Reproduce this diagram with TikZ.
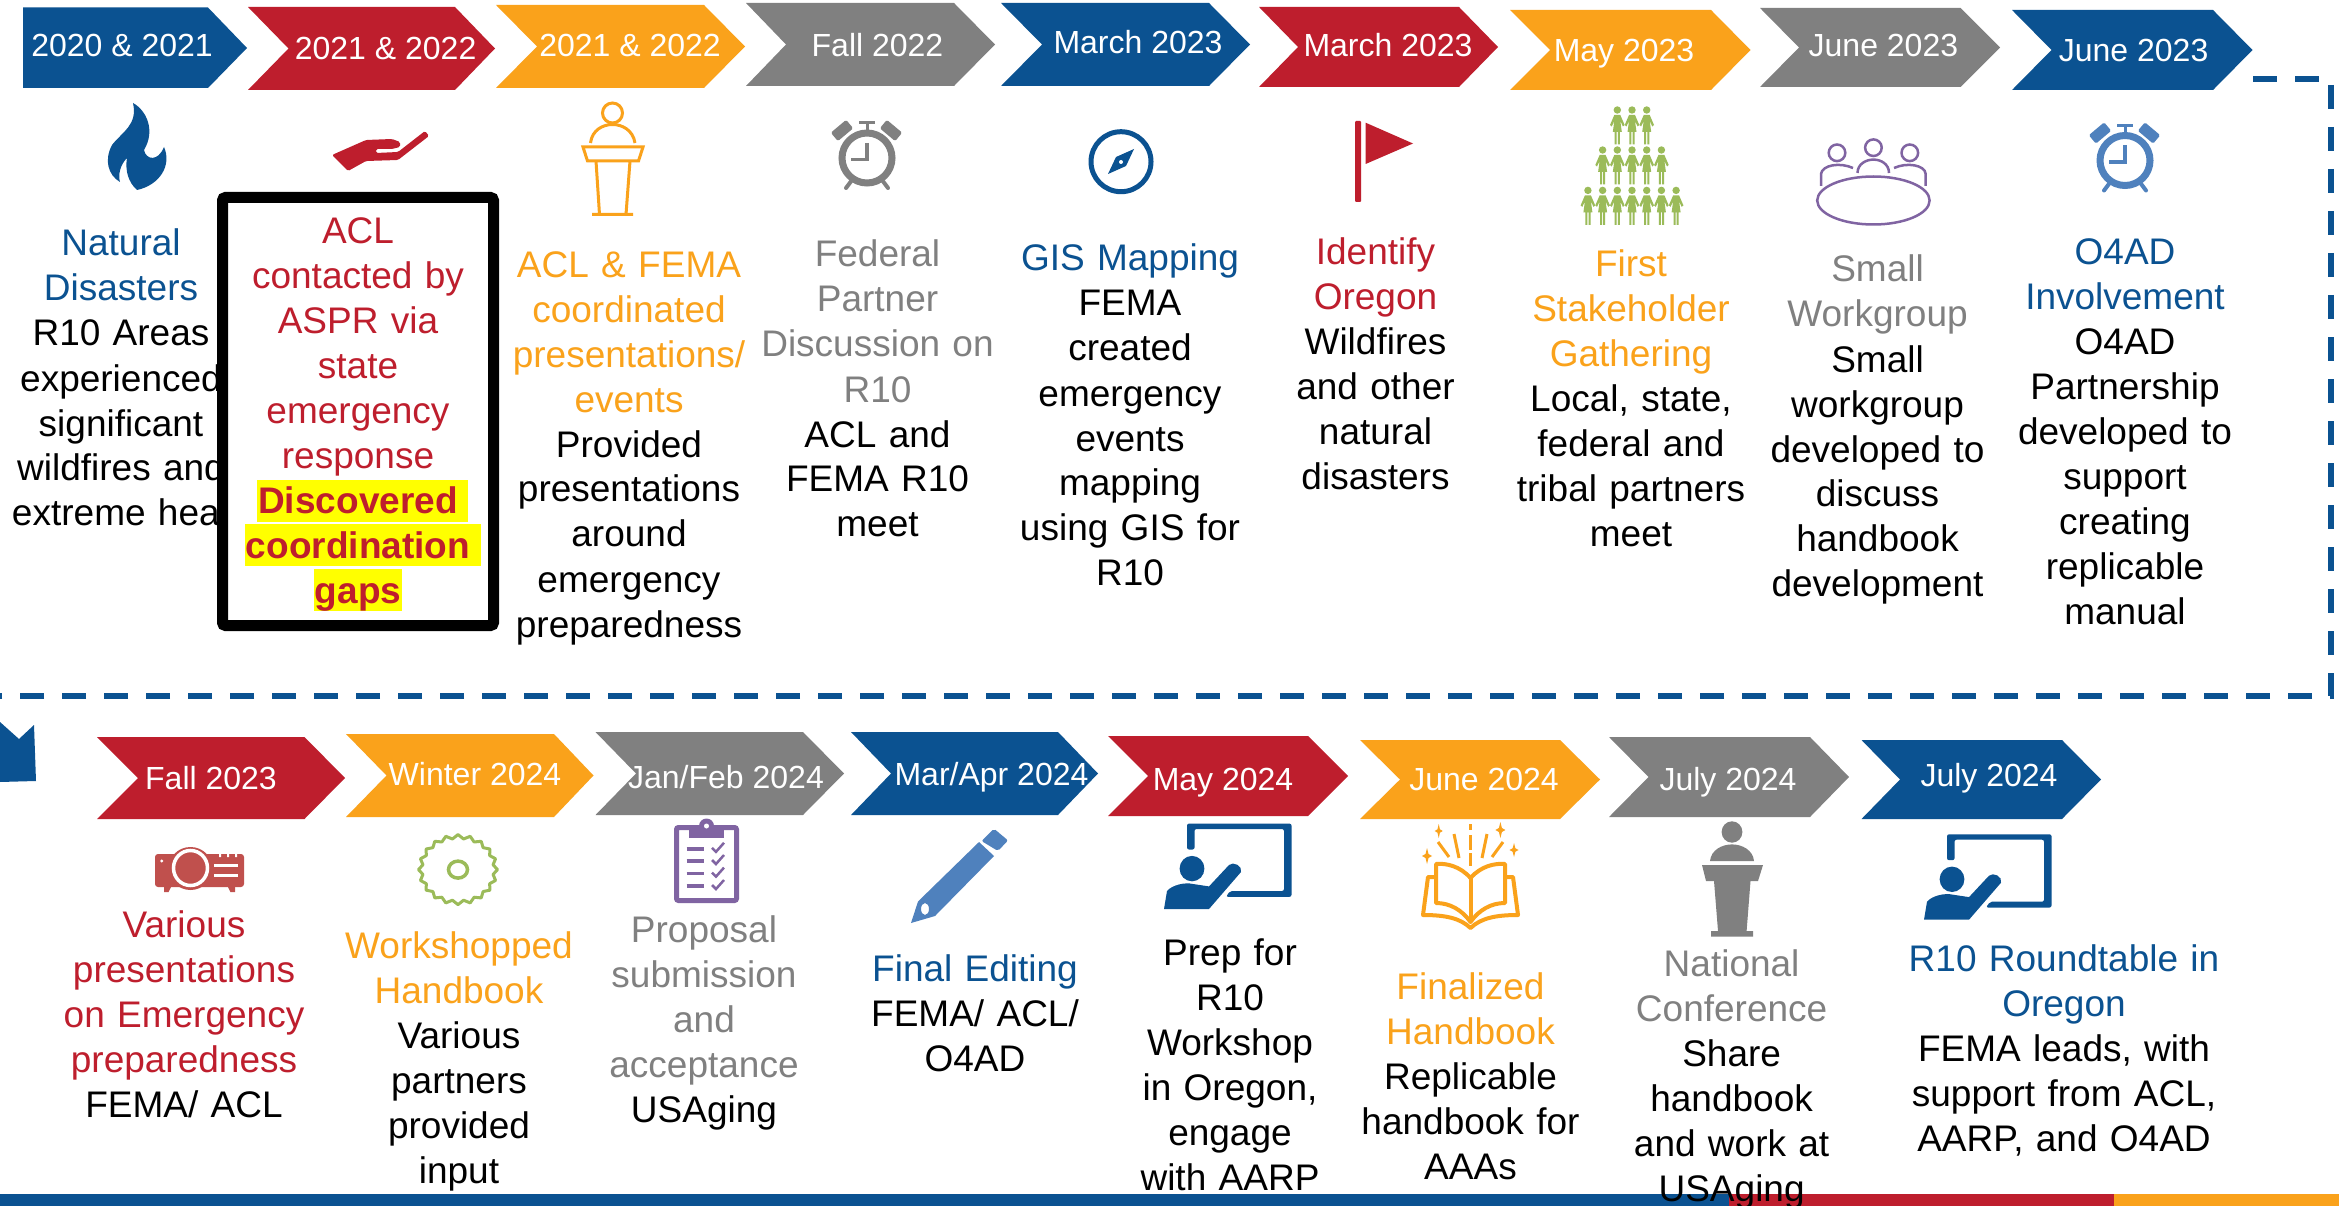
\documentclass[tikz,border=0pt]{standalone}
\usepackage{fontspec}
\setmainfont{Liberation Sans}
\definecolor{cblue}{HTML}{0B5291}
\definecolor{cred}{HTML}{BE1E2D}
\definecolor{corange}{HTML}{FAA21B}
\definecolor{cgray}{HTML}{808080}
\definecolor{clight}{HTML}{4F81BD}
\definecolor{cgreen}{HTML}{9BBB59}
\definecolor{cpurple}{HTML}{8064A2}
\definecolor{cproj}{HTML}{C0504D}
\definecolor{chigh}{HTML}{FFFF00}
\newcommand{\stt}{\rule[-12pt]{0pt}{45pt}}
\tikzset{
  txt/.style={anchor=north,yshift=33pt,inner sep=0pt,outer sep=0pt,text width=270pt,align=center,font=\fontsize{37}{45}\selectfont},
  lab/.style={anchor=base,inner sep=0pt,text=white,font=\fontsize{32}{38}\selectfont},
  flow/.style={draw=cblue,line width=5.5pt,dash pattern=on 24pt off 18pt}
}
% x-left, notch, shoulder, right, top, bottom, colour
\newcommand{\chev}[7]{\fill[#7] (#1,#5) -- (#3,#5) -- (#4,{(#5+#6)/2}) -- (#3,#6) -- (#1,#6) -- (#2,{(#5+#6)/2}) -- cycle;}
\newcommand{\clockicon}[3]{\begin{scope}[shift={(#1,#2)},#3]
  \draw[line width=7pt] (0,0) circle (25);
  \draw[line width=3.5pt] (0,-15) -- (0,1.5) -- (-16,1.5);
  \fill[rotate around={40:(-25,-27.5)},rounded corners=1.5pt] (-35,-33) rectangle (-15,-22);
  \fill[rotate around={-40:(24,-27.5)},rounded corners=1.5pt] (14,-33) rectangle (34,-22);
  \draw[line width=3pt] (0,-35) -- (0,-27) (-8,-35) -- (8,-35);
  \draw[line width=4pt,line cap=round] (-15,22) -- (-21,30) (15,22) -- (21,30);
\end{scope}}
\newcommand{\person}[2]{\begin{scope}[shift={(#1,#2)}]
  \fill (0,0) circle (3.7);
  \fill (-3,5) -- (3,5) -- (7.3,15) -- (5.6,16.5) -- (3,11) -- (4.5,22) -- (2.6,22) -- (2.6,34.5) -- (0.6,34.5) -- (0.6,22) -- (-0.6,22) -- (-0.6,34.5) -- (-2.6,34.5) -- (-2.6,22) -- (-4.5,22) -- (-3,11) -- (-5.6,16.5) -- (-7.3,15) -- cycle;
\end{scope}}
\newcommand{\teacher}[2]{\begin{scope}[shift={(#1,#2)},cblue]
  \fill[rounded corners=2pt] (1187,849.5) -- (1187,823.6) -- (1291.5,823.6) -- (1291.5,896.8) -- (1226,896.8) -- (1230,891) -- (1284,891) -- (1284,829) -- (1194.5,829) -- (1194.5,849.5) -- cycle;
  \fill (1192,868.6) ellipse (12.4 and 12.7);
  \fill (1164,909) -- (1167,891) .. controls (1172,885) and (1185,882) .. (1193,884) -- (1209,886.4) -- (1229,865) .. controls (1233,861) and (1243,866) .. (1241,872) -- (1209,909) -- cycle;
\end{scope}}
\newcommand{\sparkle}[4]{\fill[corange] (#1,#2-#4) -- (#1+#3*0.3,#2-#4*0.25) -- (#1+#3,#2) -- (#1+#3*0.3,#2+#4*0.25) -- (#1,#2+#4) -- (#1-#3*0.3,#2+#4*0.25) -- (#1-#3,#2) -- (#1-#3*0.3,#2-#4*0.25) -- cycle;}
\begin{document}
\begin{tikzpicture}[x=1pt,y=-1pt]
\useasboundingbox (0,0) rectangle (2339,1206);
\fill[white] (0,0) rectangle (2339,1206);
% bottom bar
\fill[cblue] (0,1194) rectangle (1729,1206);
\fill[cred] (1729,1194) rectangle (2114,1206);
\fill[corange] (2114,1194) rectangle (2339,1206);
% row 1 chevrons
\fill[cblue] (23,7.5) -- (208,7.5) -- (247,48) -- (208,88) -- (23,88) -- cycle;
\chev{248}{288.5}{455}{495}{7}{90}{cred}
\chev{496}{537}{704}{745}{5}{88}{corange}
\chev{746}{786}{954}{995}{3}{86}{cgray}
\chev{1001}{1042}{1209}{1250}{3}{86}{cblue}
\chev{1259}{1298}{1459}{1498}{7}{87}{cred}
\chev{1510}{1550}{1711}{1750.5}{10}{90}{corange}
\chev{1760}{1799}{1960.5}{2000}{8}{87}{cgray}
\chev{2012}{2051.5}{2213}{2252.5}{10}{90}{cblue}
\node[lab] (l1) at (122,57) {2020 \& 2021};
\node[lab] (l2) at (385.6,60) {2021 \& 2022};
\node[lab] (l3) at (630,56.4) {2021 \& 2022};
\node[lab] (l4) at (877.5,57) {Fall 2022};
\node[lab] (l5) at (1138,54) {March 2023};
\node[lab] (l6) at (1388,57) {March 2023};
\node[lab] (l7) at (1624,62) {May 2023};
\node[lab] (l8) at (1883.4,57) {June 2023};
\node[lab] (l9) at (2133.6,61.5) {June 2023};
% row 2 chevrons
\chev{97}{138}{304.5}{345}{737}{819}{cred}
\chev{346}{386.5}{554}{593.5}{734}{817}{corange}
\chev{595.5}{636}{803}{844}{732}{815}{cgray}
\chev{851}{891}{1058}{1098}{732}{815}{cblue}
\chev{1108}{1148}{1308}{1348}{736}{816}{cred}
\chev{1360}{1400}{1560}{1600}{740}{819}{corange}
\chev{1609}{1648.5}{1810}{1849}{737}{817}{cgray}
\chev{1861.5}{1900}{2062}{2101}{740}{819}{cblue}
\node[lab] (m1) at (211,789) {Fall 2023};
\node[lab] (m2) at (475,785.7) {Winter 2024};
\node[lab] (m3) at (726,788) {Jan/Feb 2024};
\node[lab] (m4) at (991.5,785.7) {Mar/Apr 2024};
\node[lab] (m5) at (1223,790.7) {May 2024};
\node[lab] (m6) at (1484,790.7) {June 2024};
\node[lab] (m7) at (1728,790) {July 2024};
\node[lab] (m8) at (1989,786.4) {July 2024};
% flow connector
\coordinate (fa) at (2253,79);
\coordinate (fb) at (2331,79);
\coordinate (fc) at (2331,696);
\coordinate (fd) at (0,696);
\draw[flow] (fa) -- (fb) -- (fc) -- (fd);
\fill[cblue] (0,722) -- (19,739) -- (34,725) -- (36,781) -- (0,782) -- cycle;
% column 1
\node[txt] (t1) at (121,256) {\stt\color{cblue}Natural\\Disasters\\\color{black}R10 Areas\\experienced\\significant\\wildfires and\\extreme heat};
% column 2: framed
\draw[black,fill=white,line width=11pt,rounded corners=3pt] (222.5,197.5) rectangle (493.5,625.5);
\fill[chigh] (257,480) rectangle (468,521.6);
\fill[chigh] (245,524) rectangle (481,566);
\fill[chigh] (314,569) rectangle (401.5,611);
\node[txt] (t2) at (358,243.4) {\stt\color{cred}ACL\\contacted by\\ASPR via\\state\\emergency\\response\\\bfseries Discovered\\coordination\\gaps};
\node[txt] (t3) at (629,277) {\stt\color{corange}ACL \& FEMA\\coordinated\\presentations/\\events\\\color{black}Provided\\presentations\\around\\emergency\\preparedness};
\node[txt] (t4) at (877.5,267) {\stt\color{cgray}Federal\\Partner\\Discussion on\\R10\\\color{black}ACL and\\FEMA R10\\meet};
\node[txt] (t5) at (1130,271) {\stt\color{cblue}GIS Mapping\\\color{black}FEMA\\created\\emergency\\events\\mapping\\using GIS for\\R10};
\node[txt] (t6) at (1375.5,265) {\stt\color{cred}Identify\\Oregon\\\color{black}Wildfires\\and other\\natural\\disasters};
\node[txt] (t7) at (1631,276.6) {\stt\color{corange}First\\Stakeholder\\Gathering\\\color{black}Local, state,\\federal and\\tribal partners\\meet};
\node[txt] (t8) at (1877.5,282) {\stt\color{cgray}Small\\Workgroup\\\color{black}Small\\workgroup\\developed to\\discuss\\handbook\\development};
\node[txt] (t9) at (2125,265) {\stt\color{cblue}O4AD\\Involvement\\\color{black}O4AD\\Partnership\\developed to\\support\\creating\\replicable\\manual};
% row 2 texts
\node[txt] (u1) at (184,937) {\stt\color{cred}Various\\presentations\\on Emergency\\preparedness\\\color{black}FEMA/ ACL};
\node[txt] (u2) at (459,958) {\stt\color{corange}Workshopped\\Handbook\\\color{black}Various\\partners\\provided\\input};
\node[txt] (u3) at (704,942) {\stt\color{cgray}Proposal\\submission\\and\\acceptance\\\color{black}USAging};
\node[txt] (u4) at (975,981) {\stt\color{cblue}Final Editing\\\color{black}FEMA/ ACL/\\O4AD};
\node[txt] (u5) at (1230,965) {\stt Prep for\\R10\\Workshop\\in Oregon,\\engage\\with AARP};
\node[txt] (u6) at (1470.5,999) {\stt\color{corange}Finalized\\Handbook\\\color{black}Replicable\\handbook for\\AAAs};
\node[txt] (u7) at (1731.6,976) {\stt\color{cgray}National\\Conference\\\color{black}Share\\handbook\\and work at\\USAging};
\node[txt,text width=360pt] (u8) at (2064,971) {\stt\color{cblue}R10 Roundtable in\\Oregon\\\color{black}FEMA leads, with\\support from ACL,\\AARP, and O4AD};
% flame
\fill[cblue] (133,103) .. controls (146,110) and (156,130) .. (144,150) .. controls (146,160) and (158,162) .. (164,147) .. controls (172,165) and (160,185) .. (137,190) .. controls (128,182) and (125,170) .. (127,158) .. controls (120,165) and (118,175) .. (120,182) .. controls (108,175) and (104,160) .. (112,145) .. controls (122,132) and (138,125) .. (133,103) -- cycle;
% hand
\fill[cred,rounded corners=1.5pt] (332,155) -- (366,140) -- (392,139) -- (400,142) -- (400,147) -- (392,149) -- (376,149) -- (376,153) -- (398,152) -- (425,131) -- (429,136) -- (398,160) -- (366,161) -- (348,171) -- cycle;
% orange podium
\begin{scope}[corange,line width=3pt]
\draw (612.5,113) circle (10);
\draw (590.5,143) .. controls (592,130) and (603,124.5) .. (612.5,124.5) .. controls (622,124.5) and (633,130) .. (635,143);
\draw (583,147) -- (643,147) -- (638.5,161) -- (587.5,161) -- cycle;
\draw (596,161) -- (599.5,214.5) (630,161) -- (626,214.5) (592,214.5) -- (633,214.5);
\end{scope}
% clocks
\clockicon{867}{158}{cgray}
\clockicon{2125}{160.5}{clight}
% compass
\draw[cblue,line width=5pt] (1121,161.7) circle (30);
\fill[cblue] (1134,149) -- (1126,166) -- (1108,174) -- (1116,157) -- cycle;
\fill[white] (1121,162) circle (2);
% flag
\fill[cred,rounded corners=1pt] (1355,121) rectangle (1361,202);
\fill[cred] (1365.6,122.7) -- (1413,143.5) -- (1365.6,164) -- cycle;
% people pyramid
\begin{scope}[cgreen]
\foreach \i in {-1,0,1}{\person{1632+14.7*\i}{110}}
\foreach \i in {-2,...,2}{\person{1632+14.7*\i}{150}}
\foreach \i in {-3,...,3}{\person{1632+14.7*\i}{190.4}}
\end{scope}
% small workgroup
\begin{scope}[cpurple,line width=2.5pt]
\draw (1873.4,200.5) ellipse (56.2 and 24);
\draw (1837,152.8) circle (8.3) (1873.4,147.7) circle (8.3) (1909.8,152.8) circle (8.3);
\draw (1821,186) -- (1821,174) .. controls (1822,165) and (1840,162) .. (1853,168);
\draw (1857.5,173) .. controls (1857.5,164) and (1866,159.6) .. (1873.4,159.6) .. controls (1881,159.6) and (1889,164) .. (1889,173);
\draw (1894,168) .. controls (1907,162) and (1925,165) .. (1925.7,174) -- (1925.7,186);
\end{scope}
% projector
\fill[cproj,rounded corners=3pt] (155,854) rectangle (244,887);
\fill[cproj] (190.5,868.5) ellipse (22 and 21.5);
\draw[white,line width=3.5pt] (190.5,868) ellipse (17 and 17.5);
\draw[white,line width=3pt] (214,865.6) -- (238,865.6) (214,875) -- (238,875);
\fill[white] (161.7,861) circle (1.6);
\fill[white] (219,854) rectangle (221,857) (227,854) rectangle (229,857) (235,854) rectangle (237,857);
\fill[cproj] (164,887) -- (171,887) -- (168.5,892) -- (164,892) -- cycle;
\fill[cproj] (228,887) -- (235,887) -- (235,892) -- (230.5,892) -- cycle;
% saw blade
\draw[cgreen,line width=3pt,line join=round] plot[domain=0:360,samples=41] ({458+(37.5+2*cos(20*\x))*cos(\x)},{869.6+(33+2*cos(20*\x))*sin(\x)}) -- cycle;
\draw[cgreen,line width=3.5pt] (458,869.6) ellipse (9.5 and 8.5);
% clipboard
\draw[cpurple,fill=white,line width=5pt,rounded corners=2pt] (676.5,827.5) rectangle (736.5,900.5);
\fill[cpurple] (689,825) rectangle (724,838);
\fill[cpurple] (706.5,826) circle (7.5);
\fill[white] (706.5,826) circle (2.5);
\foreach \yy in {848.8,861,873.6,886}{
  \draw[cpurple,line width=3.5pt] (686.6,\yy) -- (704,\yy);
  \draw[cpurple,line width=2.5pt] (712,\yy-1) -- (716,\yy+3) -- (724,\yy-6);
}
% pencil
\fill[clight,rounded corners=2pt] (994,828.7) -- (1008,840.4) -- (998,851) -- (981.5,841) -- cycle;
\fill[clight,even odd rule] (979,842) -- (994,856) -- (935,916) -- (911,923) -- (918,901.5) -- cycle (925,909) ellipse (4 and 6);
% teachers
\teacher{0}{0}
\teacher{760}{10.7}
% book
\begin{scope}[corange,line width=4pt,line join=round]
\draw (1470.5,878) -- (1470.5,922);
\draw (1470.5,878) .. controls (1460,866) and (1446,863) .. (1436,864) -- (1436,903) .. controls (1450,903) and (1462,910) .. (1470.5,922) .. controls (1479,910) and (1491,903) .. (1505,903) -- (1505,864) .. controls (1495,863) and (1481,866) .. (1470.5,878);
\draw (1434,877) -- (1428,877) -- (1423,915) .. controls (1445,915) and (1460,918) .. (1470.5,928) .. controls (1481,918) and (1496,915) .. (1518,915) -- (1513,877) -- (1507,877);
\draw[line width=3pt] (1470.5,824) -- (1470.5,830) (1470.5,835) -- (1470.5,850) (1470.5,853) -- (1470.5,866);
\draw[line width=3pt] (1454,834) -- (1459,858) (1487,834) -- (1482,858) (1438,842) -- (1449,857) (1503,842) -- (1492,857);
\end{scope}
\sparkle{1438.7}{831}{4}{7}
\sparkle{1427}{856}{5}{8}
\sparkle{1500.4}{830}{5}{8}
\sparkle{1514}{850}{4.5}{7}
% gray podium
\fill[cgray] (1732,832) ellipse (10.4 and 10.7);
\fill[cgray] (1710,861) .. controls (1711,850) and (1722,844.4) .. (1732,844.4) .. controls (1742,844.4) and (1753,850) .. (1754,861) -- cycle;
\fill[cgray] (1702,865) -- (1763,865) -- (1758,881) -- (1750.5,881) -- (1746.6,931) -- (1753,931) -- (1753,936.7) -- (1711,936.7) -- (1711,931) -- (1718,931) -- (1714,881) -- (1706,881) -- cycle;
\end{tikzpicture}
\end{document}
